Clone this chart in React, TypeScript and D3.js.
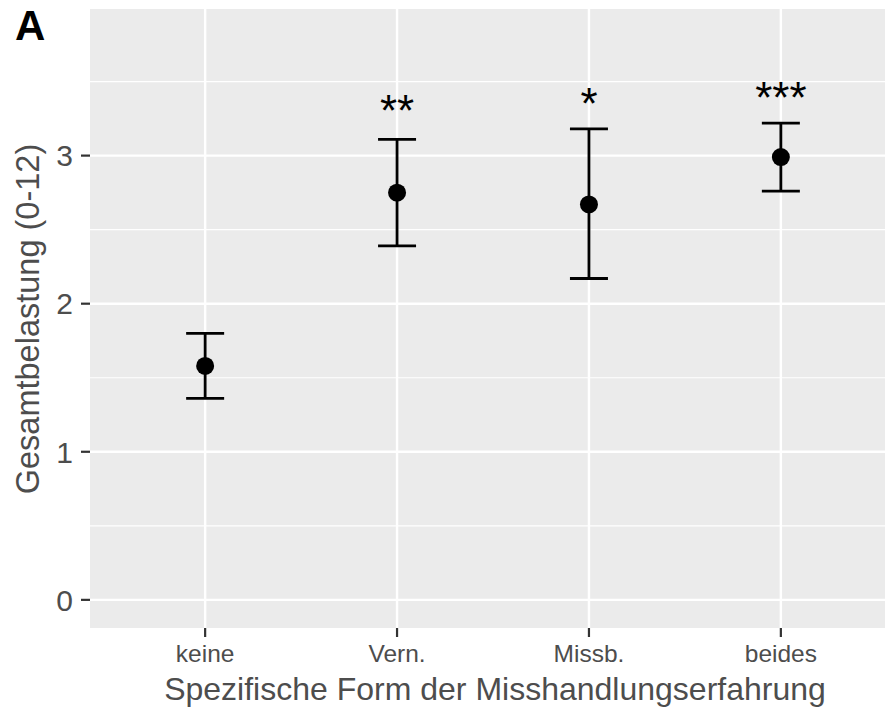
import React, { useRef, useEffect } from "react";
import { select, scalePoint, scaleLinear } from "d3";

// group labels on the x axis
const categories = ["keine", "Vern.", "Missb.", "beides"];
// group means with lower / upper bound of the error bars
const means = [1.58, 2.75, 2.67, 2.99];
const lowers = [1.36, 2.39, 2.17, 2.76];
const uppers = [1.80, 3.11, 3.18, 3.22];
// significance stars and the height they sit at
const stars = ["", "**", "*", "***"];
const starY = [0, 3.2, 3.25, 3.29];
const yTicks = [0, 1, 2, 3];
const yMinor = [0.5, 1.5, 2.5, 3.5];

const W = 885;
const H = 711;

function App() {
    const svgRef = useRef(null);

    useEffect(() => {
        const svg = select(svgRef.current);
        svg.selectAll("*").remove();

        const left = 90, right = 896, top = 9, bottom = 628;
        const font = "'Liberation Sans', Arial, sans-serif";

        const x = scalePoint().domain(categories).range([left, right]).padding(0.6);
        const y = scaleLinear().domain([-0.19, 3.99]).range([bottom, top]);

        // panel
        svg.append("rect")
            .attr("x", left).attr("y", top)
            .attr("width", right - left).attr("height", bottom - top)
            .attr("fill", "#EBEBEB");

        // grid
        svg.selectAll(".minor")
            .data(yMinor)
            .join("line")
            .attr("class", "minor")
            .attr("x1", left).attr("x2", right)
            .attr("y1", d => y(d)).attr("y2", d => y(d))
            .attr("stroke", "white").attr("stroke-width", 1.2);

        svg.selectAll(".hmajor")
            .data(yTicks)
            .join("line")
            .attr("class", "hmajor")
            .attr("x1", left).attr("x2", right)
            .attr("y1", d => y(d)).attr("y2", d => y(d))
            .attr("stroke", "white").attr("stroke-width", 2.4);

        svg.selectAll(".vmajor")
            .data(categories)
            .join("line")
            .attr("class", "vmajor")
            .attr("x1", d => x(d)).attr("x2", d => x(d))
            .attr("y1", top).attr("y2", bottom)
            .attr("stroke", "white").attr("stroke-width", 2.4);

        // y axis ticks + labels
        svg.selectAll(".ytick")
            .data(yTicks)
            .join("line")
            .attr("class", "ytick")
            .attr("x1", left - 9).attr("x2", left)
            .attr("y1", d => y(d)).attr("y2", d => y(d))
            .attr("stroke", "#333333").attr("stroke-width", 2.2);

        svg.selectAll(".ylab")
            .data(yTicks)
            .join("text")
            .attr("class", "ylab")
            .attr("x", left - 17)
            .attr("y", d => y(d))
            .attr("dy", "0.36em")
            .attr("text-anchor", "end")
            .attr("font-family", font)
            .attr("font-size", 30)
            .attr("fill", "#4D4D4D")
            .text(d => d);

        // x axis ticks + labels
        svg.selectAll(".xtick")
            .data(categories)
            .join("line")
            .attr("class", "xtick")
            .attr("x1", d => x(d)).attr("x2", d => x(d))
            .attr("y1", bottom).attr("y2", bottom + 9)
            .attr("stroke", "#333333").attr("stroke-width", 2.2);

        svg.selectAll(".xlab")
            .data(categories)
            .join("text")
            .attr("class", "xlab")
            .attr("x", d => x(d))
            .attr("y", 662)
            .attr("text-anchor", "middle")
            .attr("font-family", font)
            .attr("font-size", 24.5)
            .attr("fill", "#4D4D4D")
            .text(d => d);

        // axis titles
        svg.append("text")
            .attr("x", 495)
            .attr("y", 700)
            .attr("text-anchor", "middle")
            .attr("font-family", font)
            .attr("font-size", 32)
            .attr("fill", "#4D4D4D")
            .text("Spezifische Form der Misshandlungserfahrung");

        svg.append("text")
            .attr("transform", `translate(39, 319) rotate(-90)`)
            .attr("text-anchor", "middle")
            .attr("font-family", font)
            .attr("font-size", 32.5)
            .attr("fill", "#4D4D4D")
            .text("Gesamtbelastung (0-12)");

        // panel tag
        svg.append("text")
            .attr("x", 15).attr("y", 40)
            .attr("font-family", font)
            .attr("font-weight", "bold")
            .attr("font-size", 42)
            .attr("fill", "black")
            .text("A");

        // error bars
        const capW = 19;
        const rows = categories.map((c, i) => ({ c, m: means[i], lo: lowers[i], hi: uppers[i], s: stars[i], sy: starY[i] }));

        const g = svg.append("g").attr("stroke", "black").attr("stroke-width", 2.8);
        g.selectAll(".bar")
            .data(rows)
            .join("line")
            .attr("x1", d => x(d.c)).attr("x2", d => x(d.c))
            .attr("y1", d => y(d.lo)).attr("y2", d => y(d.hi));
        g.selectAll(".capHi")
            .data(rows)
            .join("line")
            .attr("class", "capHi")
            .attr("x1", d => x(d.c) - capW).attr("x2", d => x(d.c) + capW)
            .attr("y1", d => y(d.hi)).attr("y2", d => y(d.hi));
        g.selectAll(".capLo")
            .data(rows)
            .join("line")
            .attr("class", "capLo")
            .attr("x1", d => x(d.c) - capW).attr("x2", d => x(d.c) + capW)
            .attr("y1", d => y(d.lo)).attr("y2", d => y(d.lo));

        svg.selectAll(".pt")
            .data(rows)
            .join("circle")
            .attr("class", "pt")
            .attr("cx", d => x(d.c))
            .attr("cy", d => y(d.m))
            .attr("r", 9)
            .attr("fill", "black");

        svg.selectAll(".star")
            .data(rows.filter(d => d.s))
            .join("text")
            .attr("class", "star")
            .attr("x", d => x(d.c))
            .attr("y", d => y(d.sy))
            .attr("text-anchor", "middle")
            .attr("font-family", font)
            .attr("font-size", 44)
            .attr("fill", "black")
            .text(d => d.s);
    }, []);

    return (
        <svg ref={svgRef} width={W} height={H}
            style={{ position: "absolute", left: 0, top: 0, background: "white" }}></svg>
    );
}

export default App;
